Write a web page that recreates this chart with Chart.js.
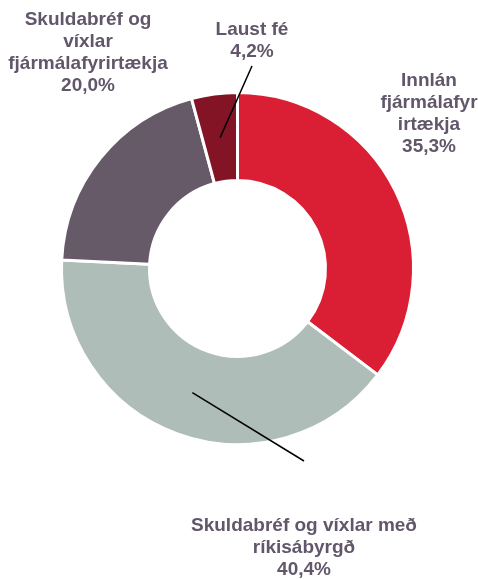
<!DOCTYPE html>
<html>
<head>
<meta charset="utf-8">
<script src="https://cdn.jsdelivr.net/npm/chart.js@4.4.1/dist/chart.umd.min.js"></script>
<style>
    html, body { margin: 0; padding: 0; background: #fff; }
    #wrap { width: 478px; height: 579px; }
</style>
</head>
<body>
<div id="wrap"><canvas id="myChart" width="478" height="579"></canvas></div>
<script>
// data
var labels = [
    ["Innlán", "fjármálafyr", "irtækja"],
    ["Skuldabréf og víxlar með", "ríkisábyrgð"],
    ["Skuldabréf og", "víxlar", "fjármálafyrirtækja"],
    ["Laust fé"]
];
var values = [35.3, 40.4, 20.0, 4.2];
var colors = ["#da1f35", "#afbdb8", "#665a69", "#821426"];

// where each label sits (centre x, first line y) and optional leader line end
var labelPos = [
    {x: 429, y: 81},
    {x: 304, y: 526, line: {x: 304, y: 461}},
    {x: 88, y: 20},
    {x: 252, y: 30, line: {x: 252, y: 66}}
];

function fmt(v) {
    return v.toFixed(1).replace(".", ",") + "%";
}

var labelPlugin = {
    id: "sliceLabels",
    afterDraw: function (chart) {
        var ctx = chart.ctx;
        var arcs = chart.getDatasetMeta(0).data;
        ctx.save();
        arcs.forEach(function (arc, i) {
            var p = labelPos[i];
            if (p.line) {
                var mid = (arc.startAngle + arc.endAngle) / 2;
                var r = (arc.innerRadius + arc.outerRadius) / 2;
                var sx = arc.x + Math.cos(mid) * r;
                var sy = arc.y + Math.sin(mid) * r;
                ctx.beginPath();
                ctx.strokeStyle = "#000";
                ctx.lineWidth = 1.5;
                ctx.moveTo(sx, sy);
                ctx.lineTo(p.line.x, p.line.y);
                ctx.stroke();
            }
            var lines = labels[i].concat([fmt(values[i])]);
            ctx.fillStyle = "#62576a";
            ctx.font = "bold 19px 'Liberation Sans', Arial, sans-serif";
            ctx.textAlign = "center";
            ctx.textBaseline = "middle";
            lines.forEach(function (t, k) {
                ctx.fillText(t, p.x, p.y + k * 22);
            });
        });
        ctx.restore();
    }
};

var mychart = new Chart(document.getElementById("myChart"), {
    type: "doughnut",
    data: {
        labels: labels.map(function (l) { return l.join(" "); }),
        datasets: [{
                data: values,
                backgroundColor: colors,
                borderColor: "#ffffff",
                borderWidth: 3
            }]
    },
    options: {
        responsive: false,
        animation: false,
        radius: 176,
        cutout: "50%",
        layout: {
            padding: {left: 0, right: 3, top: 0, bottom: 42}
        },
        plugins: {
            legend: {display: false},
            tooltip: {enabled: false}
        }
    },
    plugins: [labelPlugin]
});
</script>
</body>
</html>
